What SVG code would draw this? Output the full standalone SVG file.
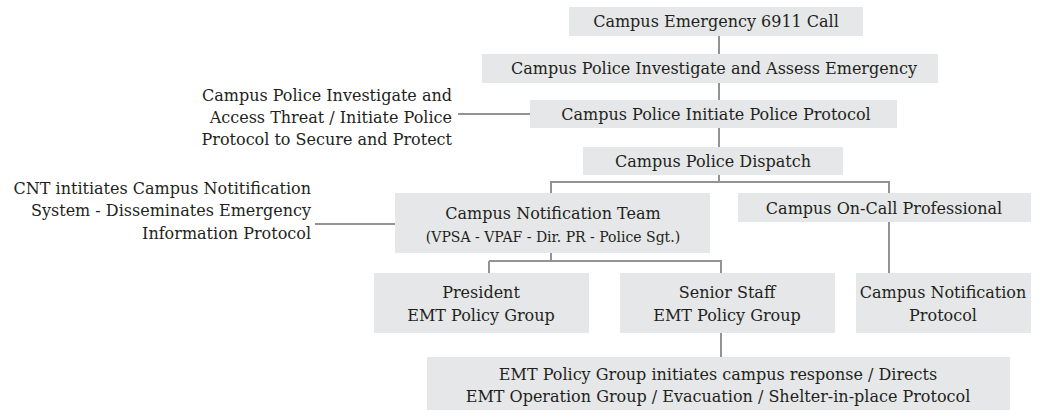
<svg xmlns="http://www.w3.org/2000/svg" width="1057" height="416" viewBox="0 0 1057 416">
<style>
.box{fill:#e6e7e8;}
.t{text-anchor:middle;}
.s{font-size:14px;}
.l{text-anchor:end;}
.c{fill:none;stroke:#939393;stroke-width:2;}
</style>
<rect width="1057" height="416" fill="#ffffff"/>
<g id="connectors">
<path class="c" d="M719 36V54M719 83V100M719 128V147M719 175V182M550 182H889V193M551 182V193M889 222V273M551 253V261M489 261H721V273M489 261V273M721 333V357M458 114H530M315 224H395"/>
</g>
<g font-family="'DejaVu Serif', serif" font-size="16" fill="#231f20">
<g id="n1"><rect class="box" x="569" y="7" width="294" height="29"/><text class="t" x="716" y="27">Campus Emergency 6911 Call</text></g>
<g id="n2"><rect class="box" x="482" y="54" width="456" height="29"/><text class="t" x="714" y="74">Campus Police Investigate and Assess Emergency</text></g>
<g id="n3"><rect class="box" x="530" y="100" width="367" height="28"/><text class="t" x="716" y="120">Campus Police Initiate Police Protocol</text></g>
<g id="n4"><rect class="box" x="583" y="147" width="260" height="28"/><text class="t" x="713" y="167">Campus Police Dispatch</text></g>
<g id="n5"><rect class="box" x="395" y="193" width="315" height="60"/><text class="t" x="553" y="219">Campus Notification Team</text><text class="t s" x="553" y="242">(VPSA - VPAF - Dir. PR - Police Sgt.)</text></g>
<g id="n6"><rect class="box" x="738" y="193" width="293" height="29"/><text class="t" x="884" y="214">Campus On-Call Professional</text></g>
<g id="n7"><rect class="box" x="374" y="273" width="215" height="60"/><text class="t" x="481" y="298">President</text><text class="t" x="481" y="321">EMT Policy Group</text></g>
<g id="n8"><rect class="box" x="620" y="273" width="215" height="60"/><text class="t" x="727" y="298">Senior Staff</text><text class="t" x="727" y="321">EMT Policy Group</text></g>
<g id="n9"><rect class="box" x="856" y="273" width="175" height="60"/><text class="t" x="943" y="298">Campus Notification</text><text class="t" x="943" y="321">Protocol</text></g>
<g id="n10"><rect class="box" x="427" y="357" width="583" height="53"/><text class="t" x="718" y="380">EMT Policy Group initiates campus response / Directs</text><text class="t" x="718" y="402">EMT Operation Group / Evacuation / Shelter-in-place Protocol</text></g>
<g id="note1"><text class="l" x="452" y="101">Campus Police Investigate and</text><text class="l" x="452" y="123">Access Threat / Initiate Police</text><text class="l" x="452" y="145">Protocol to Secure and Protect</text></g>
<g id="note2"><text class="l" x="311" y="194">CNT intitiates Campus Notitification</text><text class="l" x="311" y="216">System - Disseminates Emergency</text><text class="l" x="311" y="239">Information Protocol</text></g>
</g>
</svg>
